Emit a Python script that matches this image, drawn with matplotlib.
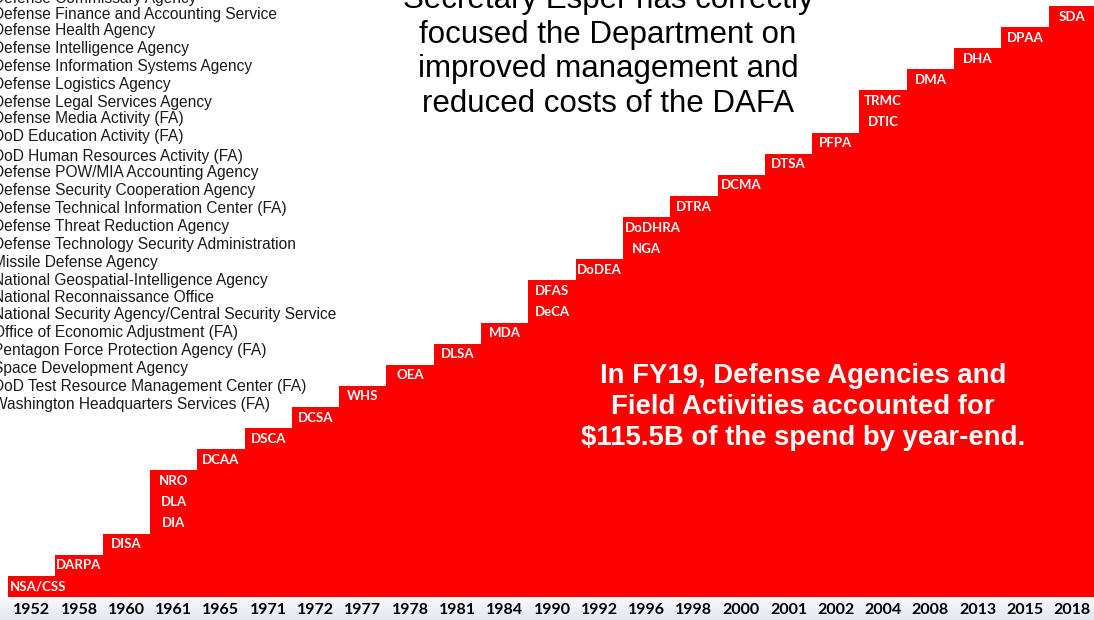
import matplotlib
matplotlib.use("Agg")
import matplotlib.pyplot as plt
import numpy as np

years = ["1952", "1958", "1960", "1961", "1965", "1971", "1972", "1977", "1978",
         "1981", "1984", "1990", "1992", "1996", "1998", "2000", "2001", "2002",
         "2004", "2008", "2013", "2015", "2018"]
agencies_by_year = [
    ["NSA/CSS"], ["DARPA"], ["DISA"], ["DIA", "DLA", "NRO"], ["DCAA"], ["DSCA"],
    ["DCSA"], ["WHS"], ["OEA"], ["DLSA"], ["MDA"], ["DeCA", "DFAS"], ["DoDEA"],
    ["NGA", "DoDHRA"], ["DTRA"], ["DCMA"], ["DTSA"], ["PFPA"], ["DTIC", "TRMC"],
    ["DMA"], ["DHA"], ["DPAA"], ["SDA"],
]
agency_list = [
    "Defense Commissary Agency",
    "Defense Finance and Accounting Service",
    "Defense Health Agency",
    "Defense Intelligence Agency",
    "Defense Information Systems Agency",
    "Defense Logistics Agency",
    "Defense Legal Services Agency",
    "Defense Media Activity (FA)",
    "DoD Education Activity (FA)",
    "DoD Human Resources Activity (FA)",
    "Defense POW/MIA Accounting Agency",
    "Defense Security Cooperation Agency",
    "Defense Technical Information Center (FA)",
    "Defense Threat Reduction Agency",
    "Defense Technology Security Administration",
    "Missile Defense Agency",
    "National Geospatial-Intelligence Agency",
    "National Reconnaissance Office",
    "National Security Agency/Central Security Service",
    "Office of Economic Adjustment (FA)",
    "Pentagon Force Protection Agency (FA)",
    "Space Development Agency",
    "DoD Test Resource Management Center (FA)",
    "Washington Headquarters Services (FA)",
]
title_lines = ["Secretary Esper has correctly", "focused the Department on",
               "improved management and", "reduced costs of the DAFA"]
callout_lines = ["In FY19, Defense Agencies and", "Field Activities accounted for",
                 "$115.5B of the spend by year-end."]

W, H = 1094, 620
fig = plt.figure(figsize=(W / 100, H / 100), dpi=100)
fig.patch.set_facecolor("white")

def fy(ypx):
    return (H - ypx) / H

# bottom gradient strip
gax = fig.add_axes([0, 0, 1, 23 / H])
grad = np.linspace(0, 1, 50).reshape(-1, 1)
top_c = np.array([0.975, 0.98, 0.99])
bot_c = np.array([0.89, 0.91, 0.94])
img = (top_c[None, None, :] * (1 - grad[..., None]) + bot_c[None, None, :] * grad[..., None])
gax.imshow(img, aspect="auto", extent=[0, 1, 0, 1], origin="upper")
gax.axis("off")

# main step chart
x0, x1 = 8, 1096
ytop, ybot = 6, 597
ax = fig.add_axes([x0 / W, (H - ybot) / H, (x1 - x0) / W, (ybot - ytop) / H])
counts = np.array([len(a) for a in agencies_by_year])
cum = np.cumsum(counts)
xs = np.arange(len(years))
ax.bar(xs, cum, width=1.0, color="#ff0000", edgecolor="none", align="center")
ax.set_xlim(-0.5, len(years) - 0.5)
ax.set_ylim(0, cum[-1])
ax.axis("off")

for i, names in enumerate(agencies_by_year):
    base = cum[i] - len(names)
    for j, nm in enumerate(names):
        if len(nm) >= 6:
            ax.text(i - 0.47, base + j + 0.5, nm, ha="left", va="center", color="white",
                    fontsize=9.5, fontweight="bold", family="Lato")
        else:
            ax.text(i, base + j + 0.5, nm, ha="center", va="center", color="white",
                    fontsize=9.5, fontweight="bold", family="Lato")

for i, y in enumerate(years):
    fig.text((x0 + (i + 0.5) * (x1 - x0) / len(years)) / W, fy(610), y,
             ha="center", va="center", fontsize=11.5, fontweight="bold",
             family="Lato", color="black")

# agency list
ys = [-2, 14, 31, 48, 66, 85, 102, 119, 137, 156, 173, 191, 208, 227, 244, 262,
      280, 297, 315, 332, 350, 369, 386, 404]
for name, yp in zip(agency_list, ys):
    fig.text(-7 / W, fy(yp), name, ha="left", va="center", fontsize=11.2,
             family="Liberation Sans", color="#1a1a1a")

# title text
for k, line in enumerate(title_lines):
    fig.text(608 / W, fy(0 + 34.7 * k), line, ha="center", va="center",
             fontsize=22.5, family="Liberation Sans", color="black")

# callout
for k, line in enumerate(callout_lines):
    fig.text(803 / W, fy(376 + 31 * k), line, ha="center", va="center",
             fontsize=19.8, fontweight="bold", family="Liberation Sans",
             color="white")

fig.savefig("out.png", dpi=100)
